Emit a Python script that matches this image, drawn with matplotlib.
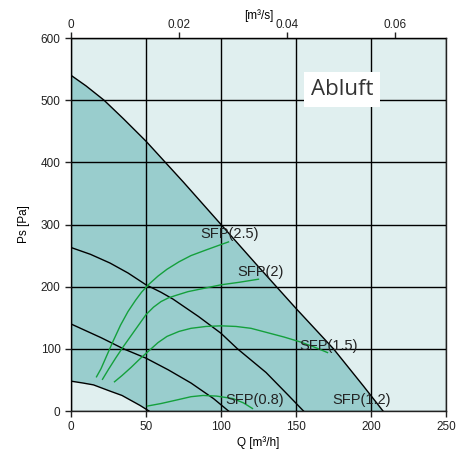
import matplotlib.pyplot as plt
import numpy as np

# fan curves [m3/h, Pa]
q_max = [0, 10, 22, 35, 50, 75, 100, 125, 150, 175, 195, 208]
p_max = [540, 523, 500, 470, 434, 368, 300, 232, 165, 100, 40, 0]
q_c2 = [0, 13, 26, 38, 50, 60, 68, 85, 100, 111, 130, 145, 155]
p_c2 = [263, 252, 238, 222, 203, 191, 180, 152, 125, 100, 62, 25, 0]
q_c3 = [0, 20, 35, 50, 65, 80, 95, 105]
p_c3 = [140, 118, 100, 85, 66, 45, 20, 0]
q_min = [0, 8, 15, 26, 34, 40, 46, 52]
p_min = [48, 45, 42, 32, 25, 17, 9, 0]

# SFP lines
sfp = {
    '2.5': ([17, 20, 24, 28, 33, 38, 43, 47, 52, 58, 64, 72, 80, 90, 98, 105],
            [55, 68, 90, 112, 138, 160, 178, 191, 204, 217, 228, 240, 250, 259, 266, 272]),
    '2': ([21, 25, 30, 35, 40, 45, 50, 55, 60, 65, 70, 78, 88, 100, 112, 125],
          [51, 67, 86, 104, 121, 138, 155, 167, 176, 182, 186, 192, 197, 203, 207, 212]),
    '1.5': ([29, 34, 40, 46, 52, 58, 64, 72, 80, 90, 100, 110, 120, 131, 142, 153, 162, 171],
            [47, 57, 70, 84, 97, 110, 120, 128, 133, 136, 137, 136, 133, 126, 119, 111, 103, 94]),
    '0.8': ([51, 60, 71, 80, 88, 97, 108, 115, 121],
            [8, 12, 18, 23, 25, 24, 20, 13, 4]),
}
labels = ['SFP(2.5)', 'SFP(2)', 'SFP(1.5)', 'SFP(0.8)', 'SFP(1.2)']
label_pos = [(86, 285), (111, 223), (152, 105), (103, 18), (174, 18)]

plt.rcParams['font.family'] = ['Liberation Sans', 'DejaVu Sans']

fig = plt.figure(figsize=(4.58, 4.54), dpi=100)
ax = fig.add_axes([71 / 458, 43 / 454, 375 / 458, 373 / 454])
ax.set_facecolor('#e0efef')

# operating area
fx = np.concatenate([q_max, q_min[::-1]])
fy = np.concatenate([p_max, p_min[::-1]])
ax.fill(fx, fy, color='#99cdcd', zorder=1, lw=0)

for q, p in [(q_max, p_max), (q_c2, p_c2), (q_c3, p_c3), (q_min, p_min)]:
    ax.plot(q, p, color='black', lw=1.0, zorder=3)

for k in sfp:
    ax.plot(sfp[k][0], sfp[k][1], color='#14a03c', lw=1.0, zorder=3)

for t, (x, y) in zip(labels, label_pos):
    ax.text(x, y, t, fontsize=10.5, va='center', ha='left', color='#222222', zorder=4)

ax.set_xlim(0, 250)
ax.set_ylim(0, 600)
ax.set_xticks(np.arange(0, 251, 50))
ax.set_yticks(np.arange(0, 601, 100))
ax.grid(True, color='black', lw=1.0, zorder=2)
ax.set_axisbelow(False)
for s in ax.spines.values():
    s.set_color('#222222')
    s.set_linewidth(1.0)
ax.tick_params(labelsize=8.5, length=4, width=1, colors='#222222')
ax.set_xlabel('Q [m³/h]', fontsize=8.5, labelpad=2)
ax.set_ylabel('Ps [Pa]', fontsize=8.5, labelpad=8)

top = ax.secondary_xaxis('top', functions=(lambda q: q / 3600, lambda v: v * 3600))
top.set_xticks([0, 0.02, 0.04, 0.06])
top.set_xticklabels(['0', '0.02', '0.04', '0.06'])
top.tick_params(labelsize=8.5, length=4, width=1, colors='#222222', pad=1)
top.set_xlabel('[m³/s]', fontsize=8.5, labelpad=0)

ax.text(0.723, 0.861, 'Abluft', transform=ax.transAxes, fontsize=16, family='Open Sans',
        ha='center', va='center', color='#333333', zorder=5,
        bbox=dict(facecolor='white', edgecolor='none', pad=5))

fig.savefig('out.png', dpi=100)
